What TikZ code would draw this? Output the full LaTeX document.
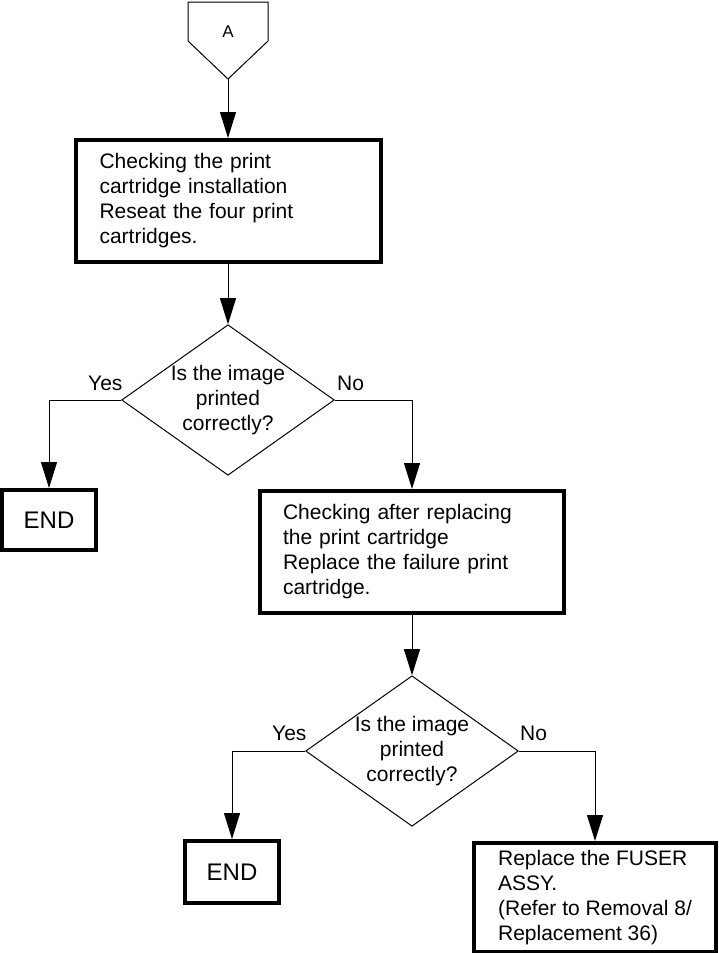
\documentclass[tikz,border=0pt]{standalone}
\usepackage{fontspec}
\setmainfont{Liberation Sans}
\usetikzlibrary{shapes.geometric,arrows.meta}
\begin{document}
\begin{tikzpicture}[x=1pt,y=-1pt,
  txt/.style={font=\fontsize{21}{25}\selectfont},
  procbox/.style={draw,line width=4pt,rectangle,inner ysep=0pt,align=left,txt},
  endbox/.style={draw,line width=4pt,rectangle,minimum width=94pt,minimum height=60pt,font=\fontsize{24}{28}\selectfont},
  decision/.style={draw,line width=1pt,diamond,aspect=1.413,inner sep=0pt,minimum width=212pt,minimum height=150pt,align=center,txt},
  conn/.style={line width=1pt,-{Triangle[width=16pt,length=26pt]}},
  lbl/.style={txt,anchor=base west,inner sep=0pt},
  thinline/.style={line width=1pt}]
\useasboundingbox (0,0) rectangle (718,953);

% off-page connector A
\draw[thinline] (188,2) -- (268,2) -- (268,41) -- (228,79) -- (188,41) -- cycle;
\coordinate (Aapex) at (228,79);
\node[font=\fontsize{17}{20}\selectfont,anchor=base,inner sep=0pt] (A) at (228,37) {A};

\node[procbox,text width=257pt,inner xsep=24pt,minimum height=122pt] (b1) at (228,201)
  {Checking the print\\cartridge installation\\Reseat the four print\\cartridges.};
\node[decision] (d1) at (228,400) {Is the image\\printed\\correctly?};
\node[endbox] (e1) at (49,520) {END};
\node[procbox,text width=258pt,inner xsep=23pt,minimum height=122pt] (b2) at (412,552)
  {Checking after replacing\\the print cartridge\\Replace the failure print\\cartridge.};
\node[decision] (d2) at (412,751) {Is the image\\printed\\correctly?};
\node[endbox,minimum height=62pt] (e2) at (232,872) {END};
\node[procbox,minimum width=242pt,minimum height=109pt,inner xsep=0pt] (b3) at (595,897.5)
  {Replace the FUSER\\ASSY.\\(Refer to Removal 8/\\Replacement 36)};

\draw[conn] (Aapex) -- (b1.north);
\draw[conn] (b1.south) -- (d1.north);
\draw[conn] (d1.west) -| (e1.north);
\draw[conn] (d1.east) -| (b2.north);
\draw[conn] (b2.south) -- (d2.north);
\draw[conn] (d2.west) -| (e2.north);
\draw[conn] (d2.east) -| (b3.north);

\node[lbl] (y1) at (88,390) {Yes};
\node[lbl] (n1) at (337,390) {No};
\node[lbl] (y2) at (272,740) {Yes};
\node[lbl] (n2) at (520,740) {No};
\end{tikzpicture}
\end{document}
